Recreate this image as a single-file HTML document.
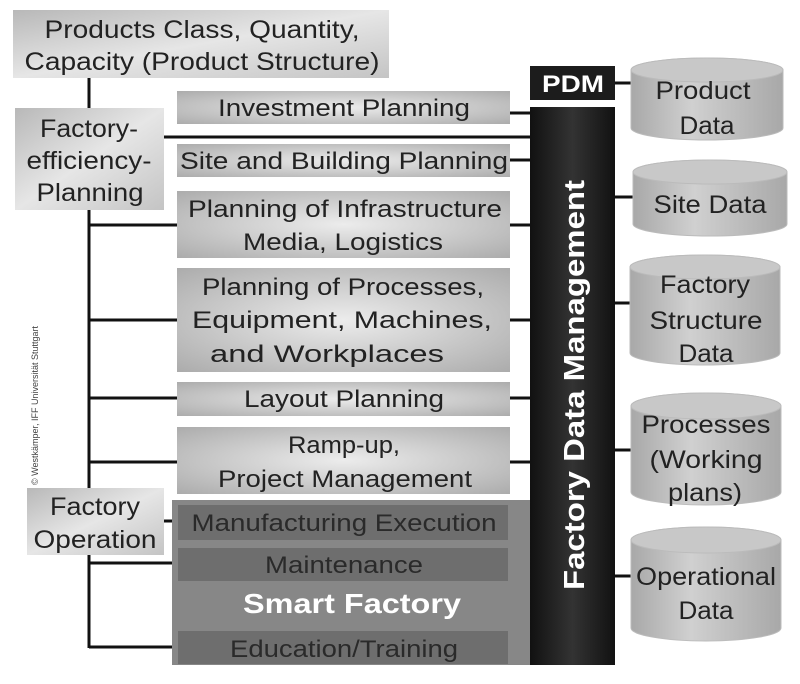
<!DOCTYPE html>
<html><head><meta charset="utf-8"><style>
html,body{margin:0;padding:0;background:#fff;width:800px;height:684px;overflow:hidden}
text{font-family:"Liberation Sans",Arial,sans-serif}
</style></head><body>
<svg width="800" height="684" viewBox="0 0 800 684" xmlns="http://www.w3.org/2000/svg">
<defs>
<radialGradient id="g" cx="0.5" cy="0.5" r="0.7">
<stop offset="0" stop-color="#ececec"/><stop offset="1" stop-color="#acacac"/></radialGradient>
<linearGradient id="lg" x1="0" y1="0" x2="1" y2="1">
<stop offset="0" stop-color="#b8b8b8"/><stop offset="0.5" stop-color="#e6e6e6"/><stop offset="1" stop-color="#c4c4c4"/></linearGradient>
<linearGradient id="cy" x1="0" y1="0" x2="1" y2="0">
<stop offset="0" stop-color="#a8a8a8"/><stop offset="0.4" stop-color="#d0d0d0"/><stop offset="1" stop-color="#a8a8a8"/></linearGradient>
<linearGradient id="bar" x1="0" y1="0" x2="1" y2="0">
<stop offset="0" stop-color="#111"/><stop offset="0.5" stop-color="#333"/><stop offset="1" stop-color="#111"/></linearGradient>
</defs>
<g stroke="#111" stroke-width="3" fill="none">
<line x1="89" y1="78" x2="89" y2="108"/>
<line x1="89" y1="210" x2="89" y2="488"/>
<line x1="89" y1="555" x2="89" y2="648"/>
<line x1="164" y1="137" x2="530" y2="137"/>
<line x1="89" y1="225" x2="178" y2="225"/>
<line x1="89" y1="320" x2="178" y2="320"/>
<line x1="89" y1="398" x2="178" y2="398"/>
<line x1="89" y1="462" x2="178" y2="462"/>
<line x1="89" y1="563" x2="178" y2="563"/>
<line x1="89" y1="647" x2="178" y2="647"/>
<line x1="164" y1="521" x2="178" y2="521"/>
<line x1="508" y1="113" x2="530" y2="113"/>
<line x1="508" y1="160" x2="530" y2="160"/>
<line x1="508" y1="225" x2="530" y2="225"/>
<line x1="508" y1="320" x2="530" y2="320"/>
<line x1="508" y1="398" x2="530" y2="398"/>
<line x1="508" y1="462" x2="530" y2="462"/>
<line x1="508" y1="521" x2="530" y2="521"/>
<line x1="508" y1="563" x2="530" y2="563"/>
<line x1="508" y1="647" x2="530" y2="647"/>
<line x1="615" y1="83" x2="632" y2="83"/>
<line x1="615" y1="197" x2="633" y2="197"/>
<line x1="615" y1="303" x2="632" y2="303"/>
<line x1="615" y1="450" x2="632" y2="450"/>
<line x1="615" y1="576" x2="632" y2="576"/>
</g>
<rect x="13" y="10" width="376" height="68" fill="url(#lg)"/>
<g font-size="25" fill="#222" text-anchor="middle" lengthAdjust="spacingAndGlyphs">
<text x="202" y="38" textLength="315" lengthAdjust="spacingAndGlyphs">Products Class, Quantity,</text>
<text x="202" y="70" textLength="355" lengthAdjust="spacingAndGlyphs">Capacity (Product Structure)</text>
</g>
<rect x="15" y="108" width="149" height="102" fill="url(#lg)"/>
<g font-size="25" fill="#222" text-anchor="middle">
<text x="89" y="137" textLength="98" lengthAdjust="spacingAndGlyphs">Factory-</text>
<text x="89" y="169" textLength="125" lengthAdjust="spacingAndGlyphs">efficiency-</text>
<text x="90" y="201" textLength="107" lengthAdjust="spacingAndGlyphs">Planning</text>
</g>
<rect x="27" y="488" width="137" height="67" fill="url(#lg)"/>
<g font-size="25" fill="#222" text-anchor="middle">
<text x="95" y="515" textLength="90" lengthAdjust="spacingAndGlyphs">Factory</text>
<text x="95" y="548" textLength="123" lengthAdjust="spacingAndGlyphs">Operation</text>
</g>
<text transform="translate(38,485) rotate(-90)" font-size="9" fill="#444">© Westkämper, IFF Universität Stuttgart</text>
<g font-size="24" fill="#222" text-anchor="middle">
<rect x="177" y="91" width="333" height="33" fill="url(#g)"/>
<text x="344" y="116" textLength="252" lengthAdjust="spacingAndGlyphs">Investment Planning</text>
<rect x="177" y="144" width="333" height="33" fill="url(#g)"/>
<text x="344" y="169" textLength="328" lengthAdjust="spacingAndGlyphs">Site and Building Planning</text>
<rect x="177" y="191" width="333" height="67" fill="url(#g)"/>
<text x="345" y="217" textLength="314" lengthAdjust="spacingAndGlyphs">Planning of Infrastructure</text>
<text x="343" y="250" textLength="200" lengthAdjust="spacingAndGlyphs">Media, Logistics</text>
<rect x="177" y="268" width="333" height="104" fill="url(#g)"/>
<text x="343" y="295" textLength="282" lengthAdjust="spacingAndGlyphs">Planning of Processes,</text>
<text x="342" y="328" textLength="300" lengthAdjust="spacingAndGlyphs">Equipment, Machines,</text>
<text x="327" y="362" textLength="234" lengthAdjust="spacingAndGlyphs">and Workplaces</text>
<rect x="177" y="382" width="333" height="34" fill="url(#g)"/>
<text x="344" y="407" textLength="200" lengthAdjust="spacingAndGlyphs">Layout Planning</text>
<rect x="177" y="427" width="333" height="67" fill="url(#g)"/>
<text x="344" y="453" textLength="112" lengthAdjust="spacingAndGlyphs">Ramp-up,</text>
<text x="345" y="487" textLength="254" lengthAdjust="spacingAndGlyphs">Project Management</text>
</g>
<rect x="172" y="500" width="358" height="165" fill="#878787"/>
<rect x="178" y="505" width="330" height="35" fill="#6e6e6e"/>
<rect x="178" y="548" width="330" height="33" fill="#6e6e6e"/>
<rect x="178" y="631" width="330" height="33" fill="#6e6e6e"/>
<g font-size="24" fill="#2a2a2a" text-anchor="middle">
<text x="344" y="531" textLength="305" lengthAdjust="spacingAndGlyphs">Manufacturing Execution</text>
<text x="344" y="573" textLength="158" lengthAdjust="spacingAndGlyphs">Maintenance</text>
<text x="344" y="657" textLength="228" lengthAdjust="spacingAndGlyphs">Education/Training</text>
</g>
<text x="352" y="613" font-size="28" font-weight="bold" fill="#fff" text-anchor="middle" textLength="218" lengthAdjust="spacingAndGlyphs">Smart Factory</text>
<rect x="530" y="66" width="85" height="34" fill="#1c1c1c"/>
<text x="573" y="92" font-size="24" font-weight="bold" fill="#fff" text-anchor="middle" textLength="62" lengthAdjust="spacingAndGlyphs">PDM</text>
<rect x="530" y="107" width="85" height="558" fill="url(#bar)"/>
<text transform="translate(584,385) rotate(-90)" font-size="29" font-weight="bold" fill="#fff" text-anchor="middle" textLength="410" lengthAdjust="spacingAndGlyphs">Factory Data Management</text>
<g fill="url(#cy)" stroke="#bbb" stroke-width="1">
<path d="M631,70 v58 a76,12 0 0 0 152,0 v-58 a76,12 0 0 0 -152,0 z"/><ellipse cx="707" cy="70" rx="76" ry="12" fill="#c8c8c8"/>
<path d="M633,172 v52 a77,12 0 0 0 154,0 v-52 a77,12 0 0 0 -154,0 z"/><ellipse cx="710" cy="172" rx="77" ry="12" fill="#c8c8c8"/>
<path d="M630,267 v86 a75,12 0 0 0 150,0 v-86 a75,12 0 0 0 -150,0 z"/><ellipse cx="705" cy="267" rx="75" ry="12" fill="#c8c8c8"/>
<path d="M631,406 v86 a75,13 0 0 0 150,0 v-86 a75,13 0 0 0 -150,0 z"/><ellipse cx="706" cy="406" rx="75" ry="13" fill="#c8c8c8"/>
<path d="M631,540 v88 a75,13 0 0 0 150,0 v-88 a75,13 0 0 0 -150,0 z"/><ellipse cx="706" cy="540" rx="75" ry="13" fill="#c8c8c8"/>
</g>
<g font-size="25" fill="#222" text-anchor="middle">
<text x="703" y="99" textLength="95" lengthAdjust="spacingAndGlyphs">Product</text>
<text x="707" y="134" textLength="55" lengthAdjust="spacingAndGlyphs">Data</text>
<text x="710" y="213" textLength="113" lengthAdjust="spacingAndGlyphs">Site Data</text>
<text x="705" y="293" textLength="90" lengthAdjust="spacingAndGlyphs">Factory</text>
<text x="706" y="329" textLength="113" lengthAdjust="spacingAndGlyphs">Structure</text>
<text x="706" y="362" textLength="55" lengthAdjust="spacingAndGlyphs">Data</text>
<text x="706" y="433" textLength="129" lengthAdjust="spacingAndGlyphs">Processes</text>
<text x="706" y="468" textLength="113" lengthAdjust="spacingAndGlyphs">(Working</text>
<text x="705" y="501" textLength="74" lengthAdjust="spacingAndGlyphs">plans)</text>
<text x="706" y="585" textLength="140" lengthAdjust="spacingAndGlyphs">Operational</text>
<text x="706" y="619" textLength="55" lengthAdjust="spacingAndGlyphs">Data</text>
</g>
</svg>
</body></html>
